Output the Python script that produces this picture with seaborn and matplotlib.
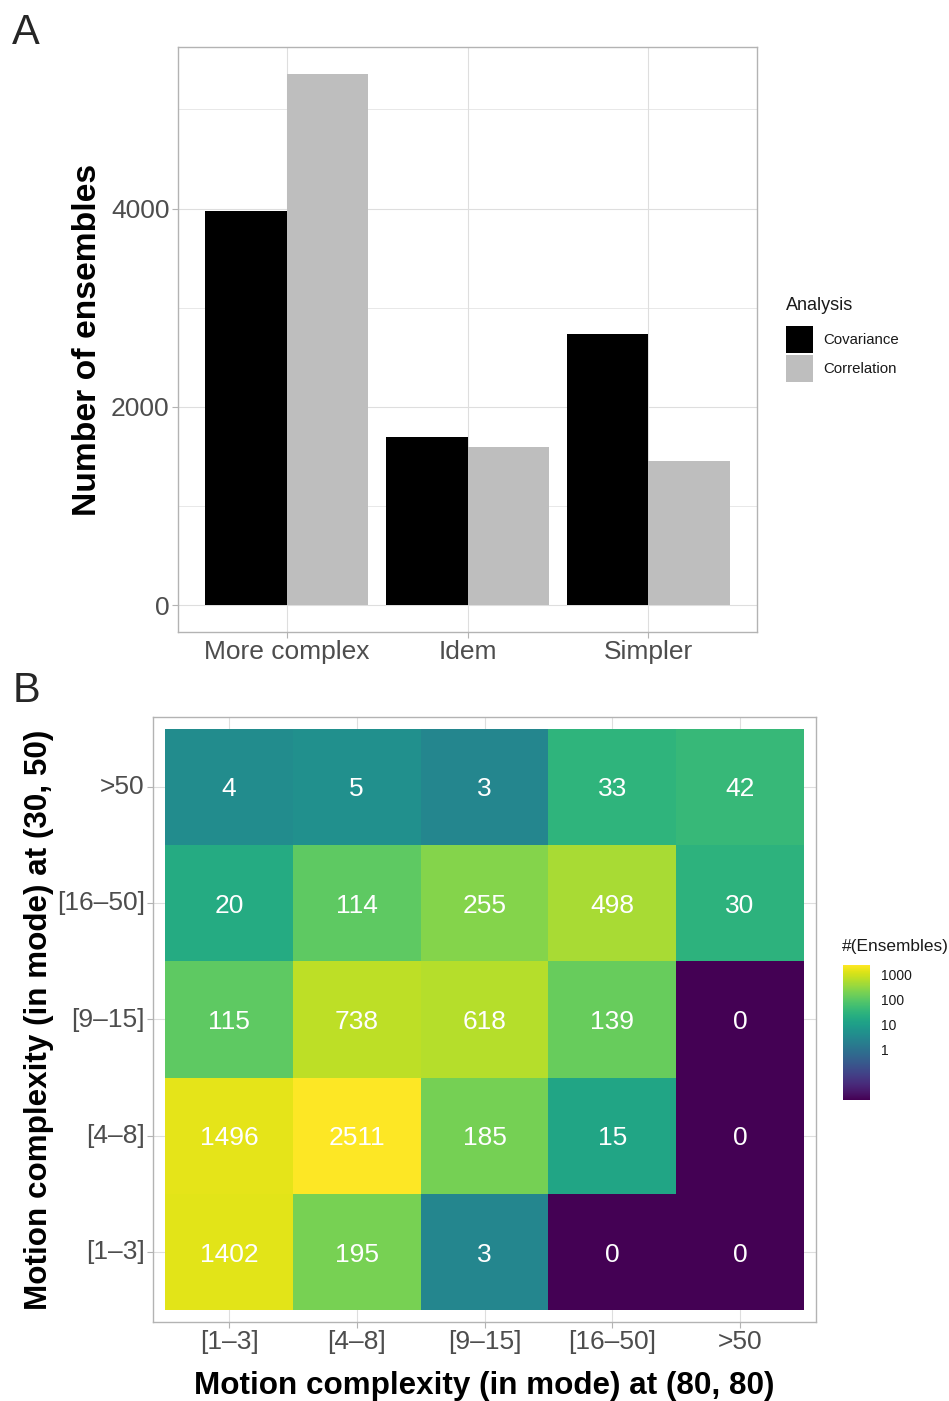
import numpy as np
import pandas as pd
import matplotlib
matplotlib.use("Agg")
import matplotlib.pyplot as plt
from matplotlib.colors import LogNorm
import seaborn as sns

# ---- data ----
categories = ["More complex", "Idem", "Simpler"]
covariance = [3980, 1700, 2740]
correlation = [5360, 1600, 1460]

row_labels = [">50", "[16–50]", "[9–15]", "[4–8]", "[1–3]"]
col_labels = ["[1–3]", "[4–8]", "[9–15]", "[16–50]", ">50"]
counts_gt50 = [4, 5, 3, 33, 42]
counts_16_50 = [20, 114, 255, 498, 30]
counts_9_15 = [115, 738, 618, 139, 0]
counts_4_8 = [1496, 2511, 185, 15, 0]
counts_1_3 = [1402, 195, 3, 0, 0]
cbar_ticks = [1, 10, 100, 1000]

sns.set_theme(style="white")
plt.rcParams["font.family"] = ["Liberation Sans", "DejaVu Sans"]

GRID = "#DEDEDE"
BORDER = "#B3B3B3"
TICKLAB = "#4D4D4D"
LEGTXT = "#1A1A1A"

W, H = 949, 1401
fig = plt.figure(figsize=(W / 100, H / 100), dpi=100)


def px_axes(left, top, right, bottom):
    return fig.add_axes([left / W, 1 - bottom / H, (right - left) / W, (bottom - top) / H])


def style_panel(ax):
    for s in ax.spines.values():
        s.set_visible(True)
        s.set_color(BORDER)
        s.set_linewidth(1.0)
    ax.tick_params(axis="both", which="major", colors=BORDER, labelcolor=TICKLAB,
                   labelsize=19, length=4, width=0.8, pad=2, bottom=True, left=True)


# ---- panel A: bar chart ----
axA = px_axes(178, 47, 757, 632)
bars = pd.DataFrame({
    "Change": categories * 2,
    "Analysis": ["Covariance"] * 3 + ["Correlation"] * 3,
    "Count": covariance + correlation,
})
sns.barplot(data=bars, x="Change", y="Count", hue="Analysis",
            hue_order=["Covariance", "Correlation"],
            palette={"Covariance": "black", "Correlation": "#BEBEBE"},
            width=0.9, gap=0, linewidth=0, saturation=1, ax=axA, zorder=2)
ymax = max(max(covariance), max(correlation))
axA.set_xlim(-0.6, 2.6)
axA.set_ylim(-0.05 * ymax, 1.05 * ymax)
axA.set_yticks([0, 2000, 4000])
axA.set_yticks([1000, 3000, 5000], minor=True)
axA.set_axisbelow(True)
axA.grid(True, which="major", color=GRID, linewidth=0.8, zorder=0)
axA.grid(True, which="minor", axis="y", color=GRID, linewidth=0.5, zorder=0)
style_panel(axA)
axA.tick_params(which="minor", length=0)
axA.set_xlabel("")
axA.set_ylabel("Number of ensembles", fontsize=24.2, fontweight="bold", color="black", labelpad=6)

sns.move_legend(axA, loc="upper left",
                bbox_to_anchor=((786 - 178) / (757 - 178), (632 - 326) / (632 - 47)),
                frameon=False, title=None, fontsize=10.8,
                handlelength=1.8, handleheight=2.39, labelspacing=0.13, handletextpad=0.67,
                borderpad=0, borderaxespad=0)
for t in axA.get_legend().get_texts():
    t.set_color(LEGTXT)
fig.text(786 / W, 1 - 306 / H, "Analysis", fontsize=13, color=LEGTXT, ha="left", va="center")

# ---- panel B: heatmap ----
axB = px_axes(153, 717, 816, 1322)
cax = px_axes(843, 965, 870, 1100)
counts = pd.DataFrame([counts_gt50, counts_16_50, counts_9_15, counts_4_8, counts_1_3],
                      index=row_labels, columns=col_labels)
colour_vals = counts.clip(lower=0.01).astype(float)
sns.heatmap(colour_vals, annot=counts.values, fmt="d", cmap="viridis",
            norm=LogNorm(vmin=0.01, vmax=counts.values.max()),
            annot_kws={"color": "white", "fontsize": 19, "va": "center_baseline"},
            cbar_ax=cax, ax=axB, linewidths=0, zorder=2)
axB.set_xlim(-0.095, 5.095)
axB.set_ylim(5.1, -0.1)
axB.set_axisbelow(True)
axB.grid(True, color=GRID, linewidth=0.8, zorder=0)
style_panel(axB)
axB.tick_params(axis="y", labelrotation=0)
axB.tick_params(axis="x", labelrotation=0)
axB.set_xlabel("Motion complexity (in mode) at (80, 80)", fontsize=22.6, fontweight="bold",
               color="black", labelpad=12)
axB.set_ylabel("Motion complexity (in mode) at (30, 50)", fontsize=22.6, fontweight="bold",
               color="black", labelpad=2)

cbar = axB.collections[0].colorbar
cbar.outline.set_visible(False)
cbar.set_ticks(cbar_ticks)
cbar.set_ticklabels([str(t) for t in cbar_ticks])
cbar.ax.minorticks_off()
cbar.ax.tick_params(which="major", direction="in", color="white", length=5, width=1,
                    left=True, right=True, labelleft=False, labelright=True,
                    labelsize=10, labelcolor=LEGTXT, pad=8)
fig.text(842 / W, 1 - 947 / H, "#(Ensembles)", fontsize=12.4, color=LEGTXT,
         ha="left", va="center")

# ---- panel tags ----
fig.text(12 / W, 1 - 33 / H, "A", fontsize=30, ha="left", va="center")
fig.text(13 / W, 1 - 691 / H, "B", fontsize=30, ha="left", va="center")

fig.savefig("out.png", dpi=100)
